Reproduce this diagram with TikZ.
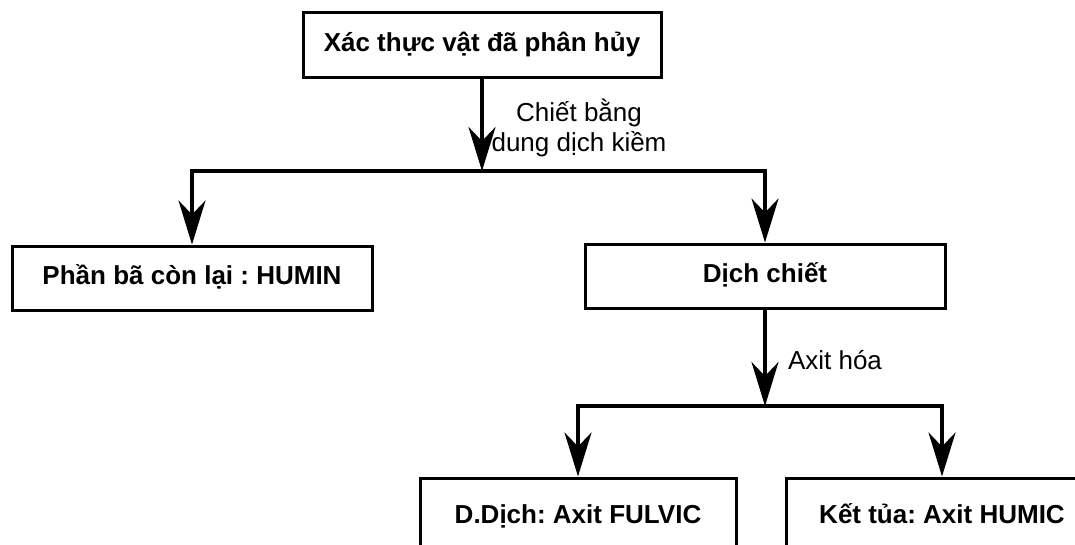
\documentclass[tikz,border=0pt]{standalone}
\usepackage{fontspec}
\setmainfont{Liberation Sans}
\frenchspacing
\usetikzlibrary{positioning,arrows.meta}

\begin{document}
\begin{tikzpicture}[x=1pt, y=-1pt, every node/.style={font=\fontsize{26}{30}\selectfont, align=center},
  caja/.style={draw, line width=3pt, minimum width=360pt, minimum height=64pt, inner sep=0pt, text height=19pt, text depth=6pt, font=\fontsize{26}{30}\selectfont\bfseries},
  flecha/.style={-{Stealth[length=44pt, width=27pt, inset=14pt]}, line width=3.5pt}]
\clip (0,0) rectangle (1075,544);
\node[caja, minimum width=358pt, minimum height=65pt] (xac) at (482,44.5) {Xác thực vật đã phân hủy};
\node[caja] (hum) at (192,278) {Phần bã còn lại : HUMIN};
\node[caja] (dch) at (765,276) {Dịch chiết};
\node[caja, minimum width=316pt, minimum height=77pt] (ful) at (578,516.5) {D.Dịch: Axit FULVIC};
\node[caja, minimum width=312pt, minimum height=77pt] (kt) at (942,516.5) {Kết tủa: Axit HUMIC};
\coordinate (tach) at (482,171);
\coordinate (axit) at (765,406);
\draw[flecha] (xac) -- (tach);
\draw[flecha] (tach) -| (hum); \draw[flecha] (tach) -| (dch);
\draw[flecha] (dch) -- (axit);
\draw[flecha] (axit) -| (ful); \draw[flecha] (axit) -| (kt);
\node (ext) at (579,128) {Chiết bằng\\dung dịch kiềm};
\node (acid) at (835,360) {Axit hóa};
\end{tikzpicture}
\end{document}
